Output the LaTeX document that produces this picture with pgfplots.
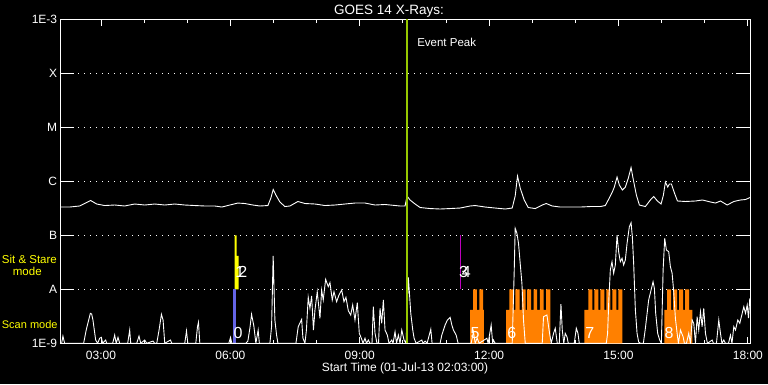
\documentclass[border=0pt]{standalone}
\usepackage{fontspec}
\setmainfont{Liberation Sans}
\usepackage{pgfplots}
\pgfplotsset{compat=1.18}
\definecolor{goesblue}{RGB}{100,100,230}
\definecolor{goesorange}{RGB}{255,128,0}
\definecolor{goesgreen}{RGB}{150,200,0}
\definecolor{goesmag}{RGB}{190,0,190}
\definecolor{goesyellow}{RGB}{255,255,0}
\begin{document}
\begin{tikzpicture}
\fill[black] (0,0) rectangle (768pt,384pt);
\begin{axis}[
  at={(60pt,40.7pt)}, anchor=south west,
  width=690pt, height=324pt, scale only axis,
  xmin=2.05, xmax=18.05,
  ymode=log, ymin=1e-9, ymax=1e-3,
  axis line style={white, line width=0.9pt},
  every tick/.style={white, line width=0.9pt},
  major tick length=6.7pt, minor tick length=3.3pt,
  xtick={3,6,9,12,15,18},
  xticklabels={03:00,06:00,09:00,12:00,15:00,18:00},
  minor xtick={4,5,7,8,10,11,13,14,16,17},
  ytick={1e-9,1e-8,1e-7,1e-6,1e-5,1e-4,1e-3},
  yticklabels={1E-9,A,B,C,M,X,1E-3},
  yminorticks=false,
  ytick style={draw=none},
  tick align=inside,
  ymajorgrids,
  major grid style={white, line width=0.9pt, dash pattern=on 0.9pt off 5.1pt},
  every tick label/.append style={font=\fontsize{12}{14}\selectfont, text=white},
  xticklabel style={anchor=base, yshift=-16pt},
  yticklabel style={anchor=east, inner sep=0pt, xshift=-2.7pt},
  xlabel={Start Time (01-Jul-13 02:03:00)},
  xlabel style={at={(axis description cs:0.5,0)}, anchor=base, yshift=-28.4pt, font=\fontsize{12}{14}\selectfont, text=white},
  clip=true,
]
% scan / sit & stare mode bars
\addplot[fill=goesorange, draw=none] coordinates {(11.561,1e-9) (11.561,4.14e-9) (11.63,4.14e-9) (11.63,1e-8) (11.716,1e-8) (11.716,4.14e-9) (11.777,4.14e-9) (11.777,1e-8) (11.862,1e-8) (11.862,4.14e-9) (11.878,4.14e-9) (11.878,1e-9)};
\addplot[fill=goesorange, draw=none] coordinates {(12.396,1e-9) (12.396,4.14e-9) (12.473,4.14e-9) (12.473,1e-8) (12.566,1e-8) (12.566,4.14e-9) (12.612,4.14e-9) (12.612,1e-8) (12.705,1e-8) (12.705,4.14e-9) (12.761,4.14e-9) (12.761,1e-8) (12.845,1e-8) (12.845,4.14e-9) (12.884,4.14e-9) (12.884,1e-8) (12.977,1e-8) (12.977,4.14e-9) (13.030,4.14e-9) (13.030,1e-8) (13.116,1e-8) (13.116,4.14e-9) (13.179,4.14e-9) (13.179,1e-8) (13.262,1e-8) (13.262,4.14e-9) (13.325,4.14e-9) (13.325,1e-8) (13.418,1e-8) (13.418,1e-9)};
\addplot[fill=goesorange, draw=none] coordinates {(14.207,1e-9) (14.207,4.14e-9) (14.30,4.14e-9) (14.30,1e-8) (14.393,1e-8) (14.393,4.14e-9) (14.439,4.14e-9) (14.439,1e-8) (14.532,1e-8) (14.532,4.14e-9) (14.579,4.14e-9) (14.579,1e-8) (14.672,1e-8) (14.672,4.14e-9) (14.718,4.14e-9) (14.718,1e-8) (14.811,1e-8) (14.811,4.14e-9) (14.858,4.14e-9) (14.858,1e-8) (14.951,1e-8) (14.951,4.14e-9) (14.997,4.14e-9) (14.997,1e-8) (15.090,1e-8) (15.090,1e-9)};
\addplot[fill=goesorange, draw=none] coordinates {(16.065,1e-9) (16.065,4.14e-9) (16.128,4.14e-9) (16.128,1e-8) (16.221,1e-8) (16.221,4.14e-9) (16.267,4.14e-9) (16.267,1e-8) (16.36,1e-8) (16.36,4.14e-9) (16.407,4.14e-9) (16.407,1e-8) (16.5,1e-8) (16.5,4.14e-9) (16.546,4.14e-9) (16.546,1e-8) (16.639,1e-8) (16.639,4.14e-9) (16.716,4.14e-9) (16.716,1e-9)};
\addplot[fill=goesyellow, draw=none] coordinates {(6.097,1e-8) (6.190,1e-8) (6.190,4.14e-8) (6.144,4.14e-8) (6.144,1e-7) (6.097,1e-7)};
\addplot[fill=goesblue, draw=none] coordinates {(6.051,1e-9) (6.121,1e-9) (6.121,1e-8) (6.051,1e-8)};
\addplot[goesmag, line width=1pt] coordinates {(11.328,1e-8) (11.328,1e-7)};
% long channel
\addplot[white, line width=0.9pt] coordinates {
(2.05,3.34e-7) (2.273,3.34e-7) (2.505,3.49e-7) (2.761,4.41e-7) (2.900,3.80e-7) (3.086,3.56e-7)
(3.318,3.64e-7) (3.550,3.49e-7) (3.782,3.80e-7) (4.015,3.64e-7) (4.247,3.80e-7) (4.479,3.64e-7)
(4.711,3.80e-7) (4.943,3.64e-7) (5.175,3.56e-7) (5.408,3.49e-7) (5.640,3.49e-7) (5.802,3.34e-7)
(5.988,3.64e-7) (6.174,3.96e-7) (6.336,3.88e-7) (6.522,3.64e-7) (6.685,3.49e-7) (6.871,3.56e-7)
(6.940,4.91e-7) (6.994,7.05e-7) (7.056,5.57e-7) (7.149,4.14e-7) (7.265,3.41e-7) (7.381,3.49e-7)
(7.567,4.23e-7) (7.730,3.88e-7) (7.962,3.80e-7) (8.194,3.56e-7) (8.426,3.64e-7) (8.658,3.80e-7)
(8.890,3.96e-7) (9.123,3.96e-7) (9.355,3.64e-7) (9.587,3.72e-7) (9.935,3.49e-7) (10.051,3.49e-7)
(10.098,5.34e-7) (10.167,4.51e-7) (10.284,3.80e-7) (10.400,3.27e-7) (10.632,3.13e-7) (10.864,3.07e-7)
(11.096,3.13e-7) (11.328,3.20e-7) (11.561,3.49e-7) (11.677,3.56e-7) (11.909,3.34e-7) (12.141,3.20e-7)
(12.373,3.07e-7) (12.536,3.20e-7) (12.605,5.34e-7) (12.659,1.25e-6) (12.721,7.51e-7) (12.814,4.51e-7)
(12.907,3.27e-7) (13.069,3.13e-7) (13.232,3.64e-7) (13.325,3.88e-7) (13.464,3.49e-7) (13.650,3.34e-7)
(13.883,3.34e-7) (14.115,3.34e-7) (14.347,3.41e-7) (14.579,3.41e-7) (14.695,3.56e-7) (14.788,4.91e-7)
(14.858,6.34e-7) (14.904,7.84e-7) (14.967,1.20e-6) (15.020,8.54e-7) (15.090,6.90e-7) (15.160,7.84e-7)
(15.229,1.15e-6) (15.292,1.80e-6) (15.345,1.06e-6) (15.415,5.57e-7) (15.485,3.64e-7) (15.624,3.41e-7)
(15.740,4.51e-7) (15.817,5.23e-7) (15.903,4.32e-7) (15.988,3.80e-7) (16.042,5.57e-7) (16.088,9.71e-7)
(16.142,7.84e-7) (16.181,8.91e-7) (16.228,8.91e-7) (16.298,6.07e-7) (16.368,4.32e-7) (16.553,4.23e-7)
(16.786,4.32e-7) (16.948,4.51e-7) (17.134,4.14e-7) (17.250,3.96e-7) (17.366,4.32e-7) (17.521,3.64e-7)
(17.674,4.23e-7) (17.830,4.51e-7) (17.946,4.60e-7) (18.05,5.01e-7)
};
% short channel
\addplot[white, line width=0.9pt] coordinates {
(2.05,1.0e-9) (2.088,1.0e-9) (2.118,1.36e-9) (2.157,1.0e-9) (2.598,1.0e-9) (2.661,1.82e-9)
(2.703,2.48e-9) (2.754,3.59e-9) (2.784,3.49e-9) (2.814,2.70e-9) (2.877,1.15e-9) (2.923,1.0e-9)
(2.970,1.24e-9) (3.009,1.29e-9) (3.039,1.0e-9) (3.109,1.15e-9) (3.132,1.0e-9) (3.272,1.0e-9)
(3.318,1.42e-9) (3.353,1.0e-9) (3.395,1.29e-9) (3.434,1.0e-9) (3.620,1.0e-9) (3.666,1.76e-9)
(3.690,1.0e-9) (3.829,1.0e-9) (3.882,1.36e-9) (3.922,1.0e-9) (4.015,1.15e-9) (4.061,1.0e-9)
(4.207,1.10e-9) (4.247,1.0e-9) (4.293,1.0e-9) (4.347,1.76e-9) (4.402,3.44e-9) (4.440,2.70e-9)
(4.479,1.0e-9) (4.611,1.15e-9) (4.642,1.0e-9) (4.943,1.0e-9) (4.983,1.69e-9) (5.013,1.0e-9)
(5.199,1.0e-9) (5.238,2.03e-9) (5.261,2.45e-9) (5.292,1.0e-9) (5.965,1.0e-9) (6.004,1.29e-9)
(6.035,1.0e-9) (6.360,1.0e-9) (6.406,1.10e-9) (6.453,1.90e-9) (6.492,3.44e-9) (6.545,2.09e-9)
(6.592,1.0e-9) (6.645,1.76e-9) (6.673,1.0e-9) (6.917,1.0e-9) (6.956,2.03e-9) (6.993,4.14e-8)
(7.033,2.70e-9) (7.072,1.42e-9) (7.103,1.0e-9) (7.521,1.0e-9) (7.574,2.03e-9) (7.653,2.78e-9)
(7.683,1.25e-9) (7.730,1.0e-9) (7.764,1.76e-9) (7.806,7.11e-9) (7.846,4.45e-9) (7.885,7.51e-9)
(7.927,1.76e-9) (7.962,4.14e-9) (8.015,9.03e-9) (8.078,2.90e-9) (8.117,9.70e-9) (8.154,6.34e-9)
(8.210,1.53e-8) (8.270,1.12e-8) (8.310,1.33e-8) (8.363,6.34e-9) (8.403,9.03e-9) (8.465,5.89e-9)
(8.519,7.84e-9) (8.582,9.70e-9) (8.635,5.89e-9) (8.681,7.11e-9) (8.735,4.02e-9) (8.791,3.34e-9)
(8.837,5.12e-9) (8.890,2.70e-9) (8.944,5.65e-9) (8.990,1.53e-9) (9.046,1.19e-9) (9.076,1.0e-9)
(9.123,1.24e-9) (9.157,1.0e-9) (9.199,1.15e-9) (9.239,1.0e-9) (9.285,1.0e-9) (9.315,4.76e-9)
(9.355,1.53e-9) (9.401,1.0e-9) (9.436,1.0e-9) (9.471,4.45e-9) (9.510,2.35e-9) (9.548,6.34e-9)
(9.587,1.76e-9) (9.640,1.42e-9) (9.680,1.0e-9) (9.743,1.15e-9) (9.773,1.0e-9) (9.819,1.64e-9)
(9.854,1.0e-9) (9.896,1.42e-9) (9.935,1.0e-9) (9.975,1.76e-9) (10.028,1.15e-9) (10.075,1.0e-9)
(10.128,1.67e-8) (10.184,3.59e-9) (10.230,1.76e-9) (10.260,1.25e-9) (10.307,1.0e-9) (10.439,1.15e-9)
(10.469,1.0e-9) (10.516,1.10e-9) (10.562,1.0e-9) (10.648,1.82e-9) (10.678,1.0e-9) (10.864,1.0e-9)
(10.903,1.42e-9) (10.980,2.18e-9) (11.033,2.70e-9) (11.096,3.03e-9) (11.136,2.18e-9) (11.173,1.76e-9)
(11.236,1.42e-9) (11.282,1.0e-9) (11.584,1.0e-9) (11.637,1.64e-9) (11.677,1.0e-9) (11.723,1.25e-9)
(11.770,1.0e-9) (11.948,1.24e-9) (11.978,1.0e-9) (12.048,2.18e-9) (12.083,1.0e-9) (12.101,1.15e-9)
(12.141,1.0e-9) (12.536,1.0e-9) (12.582,2.12e-8) (12.605,1.35e-7) (12.645,1.09e-7) (12.682,7.11e-8)
(12.721,3.03e-8) (12.761,1.29e-8) (12.798,2.70e-9) (12.838,1.0e-9) (13.232,1.0e-9) (13.262,3.11e-9)
(13.341,3.34e-9) (13.402,1.53e-9) (13.441,1.0e-9) (13.495,1.53e-9) (13.534,1.90e-9) (13.581,1.0e-9)
(13.627,1.0e-9) (13.666,5.34e-9) (13.697,1.76e-9) (13.732,1.0e-9) (13.766,1.53e-9) (13.806,1.32e-9)
(13.836,1.0e-9) (13.975,1.0e-9) (14.022,1.90e-9) (14.061,1.53e-9) (14.091,1.0e-9) (14.718,1.0e-9)
(14.748,1.53e-9) (14.776,6.34e-9) (14.811,2.28e-8) (14.850,3.24e-8) (14.888,1.98e-8) (14.927,2.82e-8)
(14.967,1.01e-7) (15.004,4.97e-8) (15.043,3.24e-8) (15.083,3.75e-8) (15.120,2.82e-8) (15.159,3.49e-8)
(15.199,7.11e-8) (15.252,1.44e-7) (15.292,1.71e-7) (15.322,9.42e-8) (15.352,3.03e-8) (15.392,4.14e-9)
(15.431,1.53e-9) (15.468,1.06e-9) (15.508,1.0e-9) (15.577,1.0e-9) (15.624,1.90e-9) (15.700,6.34e-9)
(15.756,9.70e-9) (15.802,1.38e-8) (15.833,1.04e-8) (15.863,3.59e-9) (15.909,1.53e-9) (15.956,1.15e-9)
(15.995,1.0e-9) (16.035,2.28e-8) (16.072,8.80e-8) (16.111,5.34e-8) (16.165,4.97e-8) (16.204,2.62e-8)
(16.244,1.98e-8) (16.281,9.03e-9) (16.320,2.90e-9) (16.360,1.53e-9) (16.390,1.0e-9) (16.437,1.76e-9)
(16.499,1.32e-9) (16.529,1.0e-9) (16.576,1.0e-9) (16.629,1.53e-9) (16.668,1.0e-9) (16.708,2.70e-9)
(16.745,2.35e-9) (16.785,1.0e-9) (16.824,3.11e-9) (16.861,1.76e-9) (16.901,3.85e-9) (16.940,2.03e-9)
(16.977,4.45e-9) (17.017,1.53e-9) (17.063,1.0e-9) (17.172,1.15e-9) (17.203,1.0e-9) (17.272,1.0e-9)
(17.326,2.70e-9) (17.365,1.53e-9) (17.400,1.0e-9) (17.442,1.15e-9) (17.481,1.0e-9) (17.551,1.0e-9)
(17.597,1.42e-9) (17.632,1.0e-9) (17.674,2.03e-9) (17.713,1.76e-9) (17.767,2.70e-9) (17.813,2.35e-9)
(17.869,3.59e-9) (17.906,4.76e-9) (17.946,3.59e-9) (17.985,5.12e-9) (18.015,2.93e-9) (18.045,6.81e-9)
};
% event peak
\addplot[goesgreen, line width=2pt] coordinates {(10.09,1e-9) (10.09,1e-3)};
\node[anchor=west, text=white, font=\fontsize{11.5}{13}\selectfont, inner sep=0pt] at (axis cs:10.33,3.67e-4) {Event Peak};
% mode numbers
\node[text=white, font=\fontsize{16}{16}\selectfont, inner sep=0pt] at (axis cs:6.181,1.53e-9) {0};
\node[text=white, font=\fontsize{16}{16}\selectfont, inner sep=0pt] at (axis cs:6.22,2.09e-8) {1};
\node[text=white, font=\fontsize{16}{16}\selectfont, inner sep=0pt] at (axis cs:6.29,2.09e-8) {2};
\node[text=white, font=\fontsize{16}{16}\selectfont, inner sep=0pt] at (axis cs:11.41,2.05e-8) {3};
\node[text=white, font=\fontsize{16}{16}\selectfont, inner sep=0pt] at (axis cs:11.47,2.05e-8) {4};
\node[text=white, font=\fontsize{16}{16}\selectfont, inner sep=0pt] at (axis cs:11.677,1.53e-9) {5};
\node[text=white, font=\fontsize{16}{16}\selectfont, inner sep=0pt] at (axis cs:12.529,1.53e-9) {6};
\node[text=white, font=\fontsize{16}{16}\selectfont, inner sep=0pt] at (axis cs:14.335,1.53e-9) {7};
\node[text=white, font=\fontsize{16}{16}\selectfont, inner sep=0pt] at (axis cs:16.176,1.53e-9) {8};
% y-axis ticks (long, on both sides)
\draw[white, line width=0.9pt] (rel axis cs:0,0.16667) -- (rel axis cs:0.0203,0.16667);
\draw[white, line width=0.9pt] (rel axis cs:0,0.33333) -- (rel axis cs:0.0203,0.33333);
\draw[white, line width=0.9pt] (rel axis cs:0,0.5) -- (rel axis cs:0.0203,0.5);
\draw[white, line width=0.9pt] (rel axis cs:0,0.66667) -- (rel axis cs:0.0203,0.66667);
\draw[white, line width=0.9pt] (rel axis cs:0,0.83333) -- (rel axis cs:0.0203,0.83333);
\draw[white, line width=0.9pt] (rel axis cs:1,0.16667) -- (rel axis cs:0.9797,0.16667);
\draw[white, line width=0.9pt] (rel axis cs:1,0.33333) -- (rel axis cs:0.9797,0.33333);
\draw[white, line width=0.9pt] (rel axis cs:1,0.5) -- (rel axis cs:0.9797,0.5);
\draw[white, line width=0.9pt] (rel axis cs:1,0.66667) -- (rel axis cs:0.9797,0.66667);
\draw[white, line width=0.9pt] (rel axis cs:1,0.83333) -- (rel axis cs:0.9797,0.83333);
\end{axis}
\node[anchor=base, text=white, font=\fontsize{13.5}{15}\selectfont] at (389pt,370pt) {GOES 14 X-Rays:};
\node[anchor=base west, text=goesyellow, font=\fontsize{11.5}{13}\selectfont, inner sep=0pt] at (1.7pt,120.7pt) {Sit \& Stare};
\node[anchor=base west, text=goesyellow, font=\fontsize{11.5}{13}\selectfont, inner sep=0pt] at (12.7pt,109pt) {mode};
\node[anchor=base west, text=goesyellow, font=\fontsize{11}{13}\selectfont, inner sep=0pt] at (1.7pt,55.7pt) {Scan mode};
\pgfresetboundingbox
\useasboundingbox (0,0) rectangle (768pt,384pt);
\end{tikzpicture}
\end{document}
